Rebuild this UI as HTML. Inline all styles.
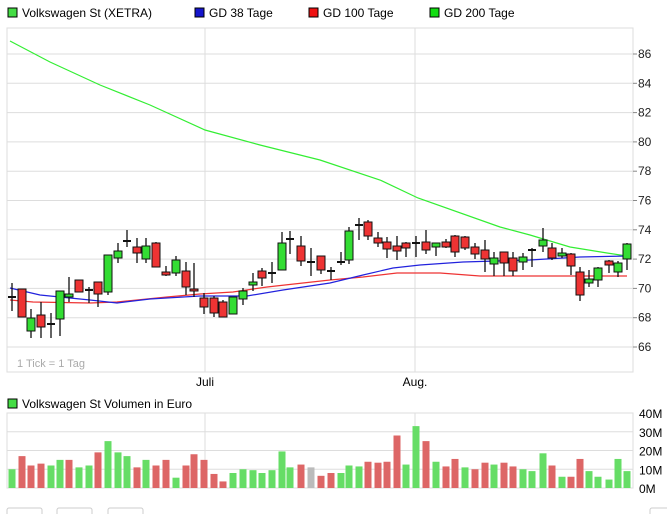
<!DOCTYPE html>
<html><head><meta charset="utf-8"><style>
body{margin:0;background:#fff;width:667px;height:514px;overflow:hidden;font-family:"Liberation Sans",sans-serif;}
</style></head><body>
<svg id="s" width="667" height="514" xmlns="http://www.w3.org/2000/svg" font-family="Liberation Sans, sans-serif" font-size="12"></svg>
<script>
const s=document.getElementById('s');let h='';
// legend
function leg(x,y,c,t){h+=`<rect x="${x}" y="${y}" width="9" height="9" fill="${c}" stroke="#000" stroke-width="1"/><text x="${x+14}" y="${y+9}" fill="#000">${t}</text>`;}
leg(8,8,'#44dd44','Volkswagen St (XETRA)');leg(195,8,'#1515cc','GD 38 Tage');leg(309,8,'#ee1111','GD 100 Tage');leg(430,8,'#11dd11','GD 200 Tage');
// price panel
const L=7,R=633,T=28,B=372;
h+=`<rect x="${L}" y="${T}" width="${R-L}" height="${B-T}" fill="#fff" stroke="#ddd"/>`;
for(let v=86;v>=66;v-=2){const y=54+(86-v)*14.65;h+=`<line x1="${L}" x2="${R}" y1="${y}" y2="${y}" stroke="#ddd"/><line x1="${R}" x2="${R+4}" y1="${y}" y2="${y}" stroke="#888"/><text x="${R+5}" y="${y+4}" fill="#222">${v}</text>`;}
[205,415].forEach(x=>{h+=`<line x1="${x}" x2="${x}" y1="${T}" y2="${B}" stroke="#ddd"/>`;});
h+=`<text x="17" y="367" fill="#aaa" font-size="11">1 Tick = 1 Tag</text>`;
h+=`<text x="205" y="386" text-anchor="middle" fill="#000">Juli</text><text x="415" y="386" text-anchor="middle" fill="#000">Aug.</text>`;
// MAs
function pl(pts,c){h+=`<polyline fill="none" stroke="${c}" stroke-width="1.2" points="${pts.map(p=>p.join(',')).join(' ')}"/>`;}
pl([[10,41],[50,62],[100,85],[150,105],[205,130],[260,145],[320,160],[380,180],[418,198],[500,227],[530,235],[570,247],[607,253],[627,256]],'#33ee33');
pl([[10,300],[33,302],[90,303],[117,302],[167,297],[200,294],[233,292],[267,287],[330,280],[363,277],[397,273],[440,273],[480,276],[530,276],[627,276]],'#ee3333');
pl([[10,288],[40,295],[90,300],[117,303],[150,299],[200,296],[247,296],[283,290],[330,283],[363,275],[393,268],[420,265],[463,262],[530,260],[580,257],[627,256]],'#2222dd');
// candles [x,top,bot,hi,lo,c]
const C=[[12,296,298,283,311,'d'],[22,289,317,289,317,'r'],[31,318,331,309,338,'g'],[41,315,327,302,338,'r'],[51,323,325,313,338,'d'],[60,291,319,291,336,'g'],[69,294,297,277,302,'g'],[79,280,292,280,292,'r'],[89,289,291,287,303,'d'],[98,282,294,282,307,'r'],[108,255,292,255,295,'g'],[118,251,258,243,263,'g'],[127,240,242,230,247,'d'],[137,247,253,238,263,'r'],[146,246,259,238,263,'g'],[156,243,267,242,267,'r'],[166,272,275,266,276,'r'],[176,260,273,256,276,'g'],[186,271,287,262,295,'r'],[194,289,291,263,297,'r'],[204,298,307,293,314,'r'],[214,298,313,296,317,'r'],[223,302,317,300,317,'r'],[233,297,314,297,314,'g'],[243,291,299,288,305,'g'],[253,282,285,273,291,'g'],[262,271,278,268,286,'r'],[272,272,274,262,283,'d'],[282,243,270,232,270,'g'],[290,238,240,231,254,'d'],[301,246,261,236,266,'r'],[311,261,263,248,276,'d'],[321,256,270,256,274,'r'],[331,270,272,267,280,'d'],[341,261,263,252,265,'d'],[349,231,260,227,264,'g'],[359,224,226,218,240,'d'],[368,222,236,220,240,'r'],[378,238,243,232,247,'r'],[387,242,249,237,258,'r'],[397,246,251,236,260,'r'],[406,243,248,242,257,'r'],[416,242,244,236,257,'d'],[426,242,250,230,254,'r'],[436,243,247,243,256,'g'],[446,242,247,239,248,'r'],[455,236,252,235,257,'r'],[465,237,248,236,250,'r'],[475,247,254,243,259,'r'],[485,250,259,240,272,'r'],[494,258,264,252,276,'g'],[504,252,263,252,276,'r'],[513,258,271,252,276,'r'],[523,257,262,253,270,'g'],[532,249,251,248,267,'d'],[543,240,246,228,252,'g'],[552,248,258,243,260,'r'],[562,253,256,248,258,'g'],[571,254,266,253,275,'r'],[580,272,295,267,301,'r'],[589,279,283,270,287,'g'],[598,268,280,267,287,'g'],[609,261,265,260,273,'r'],[618,263,272,261,277,'g'],[627,244,259,243,270,'g']];
C.forEach(([x,t,b,hi,lo,c])=>{h+=`<line x1="${x}" x2="${x}" y1="${hi}" y2="${lo}" stroke="#111" stroke-width="1.3"/>`;
if(c=='d')h+=`<line x1="${x-4}" x2="${x+4}" y1="${t+1}" y2="${t+1}" stroke="#111" stroke-width="2"/>`;
else h+=`<rect x="${x-4}" y="${t}" width="8" height="${Math.max(b-t,2)}" fill="${c=='r'?'#ee3333':'#33dd33'}" stroke="#111" stroke-width="1"/>`;});
// volume
leg(8,399,'#44dd44','Volkswagen St Volumen in Euro');
const VT=413,VB=488;
h+=`<rect x="${L}" y="${VT}" width="${R-L}" height="${VB-VT}" fill="#fff" stroke="#ddd"/>`;
['40M','30M','20M','10M','0M'].forEach((t,i)=>{const y=VT+i*18.75;h+=`<line x1="${L}" x2="${R}" y1="${y}" y2="${y}" stroke="#ddd"/><text x="${R+6}" y="${y+5}" fill="#000">${t}</text>`;});
[205,415].forEach(x=>{h+=`<line x1="${x}" x2="${x}" y1="${VT}" y2="${VB}" stroke="#ddd"/>`;});
const V=[[10,'g'],[17,'r'],[12,'r'],[13,'r'],[12,'g'],[15,'g'],[15,'r'],[11,'g'],[12,'g'],[19,'r'],[25,'g'],[19,'g'],[17,'g'],[11,'r'],[15,'g'],[12,'r'],[15,'r'],[5.5,'g'],[12,'r'],[18,'r'],[15,'r'],[7.5,'r'],[3.5,'r'],[8,'g'],[10,'g'],[9.5,'g'],[8,'g'],[9.5,'g'],[19.5,'g'],[11,'g'],[12.5,'r'],[11,'x'],[6.5,'r'],[8,'r'],[8,'g'],[12,'g'],[11.5,'g'],[14,'r'],[13.5,'r'],[14,'r'],[28,'r'],[12.5,'g'],[33,'g'],[25,'r'],[14,'g'],[11.5,'r'],[15.5,'r'],[11,'g'],[10,'r'],[13.5,'r'],[12.5,'g'],[13.5,'r'],[11.5,'r'],[10,'g'],[9,'g'],[18.5,'g'],[12,'r'],[6,'g'],[6,'r'],[15.5,'r'],[9,'g'],[6,'g'],[4.5,'g'],[15.5,'g'],[9,'g']];
V.forEach(([m,c],i)=>{const x=C[i][0];const hh=m*1.875;h+=`<rect x="${x-3.5}" y="${VB-hh}" width="7" height="${hh}" fill="${c=='r'?'#dd6666':c=='g'?'#66dd66':'#bbbbbb'}"/>`;});
// bottom buttons
[[7,35],[57,35],[108,35],[650,20]].forEach(([x,w])=>{h+=`<rect x="${x}" y="508" width="${w}" height="14" rx="2" fill="#fff" stroke="#ccc"/>`;});
s.innerHTML=h;
</script>
</body></html>
